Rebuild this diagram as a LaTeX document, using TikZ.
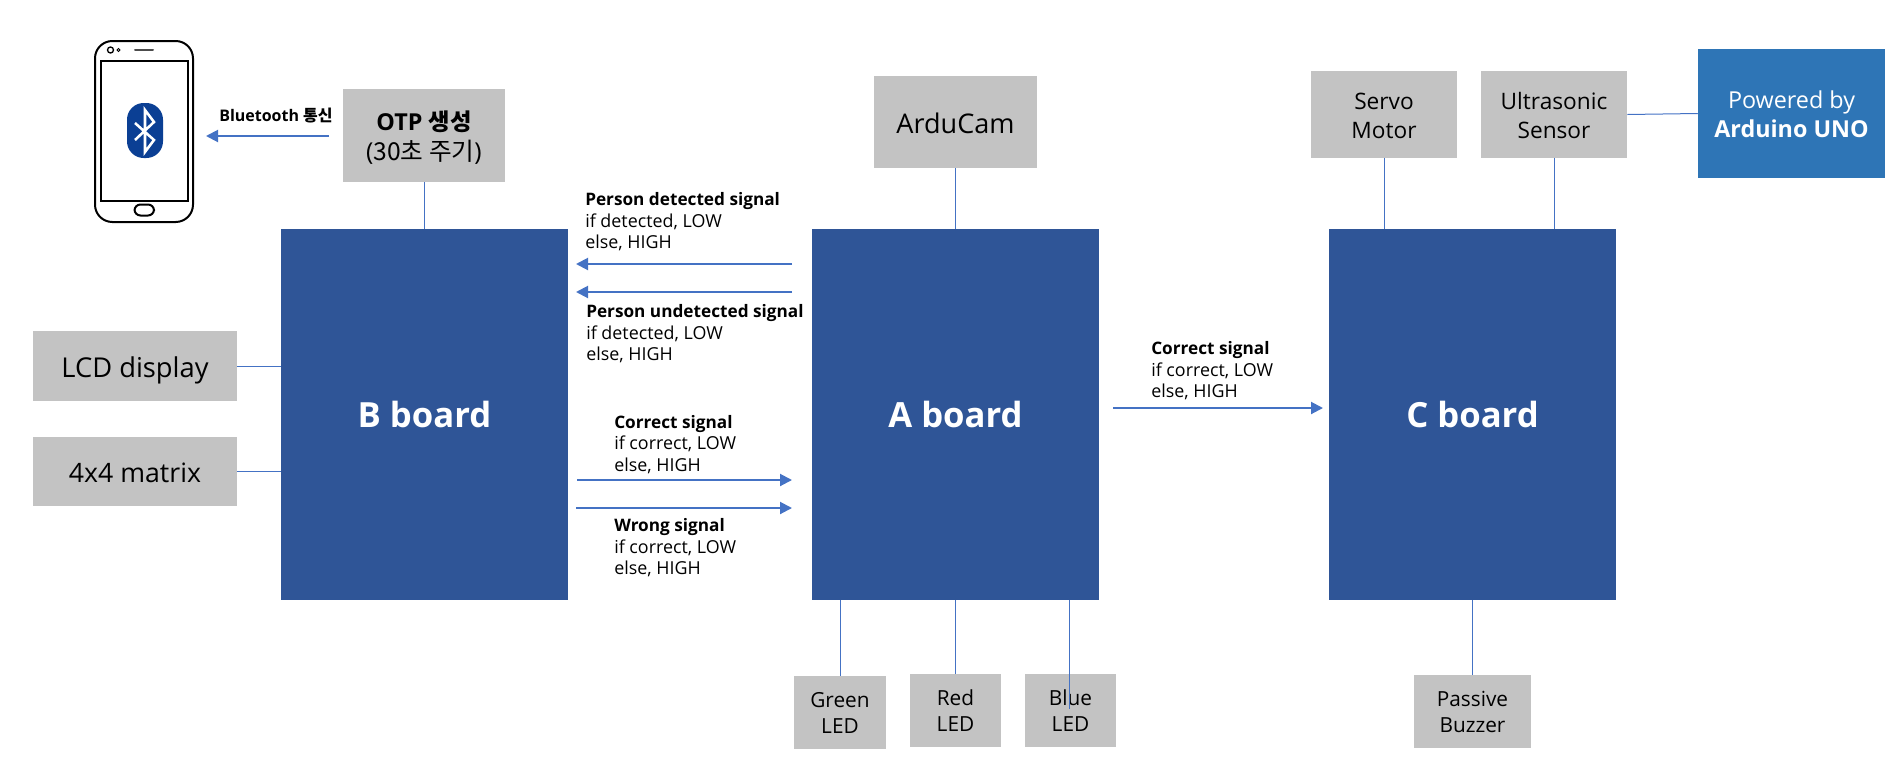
\documentclass[tikz,border=0pt]{standalone}
\usepackage{fontspec}
\setmainfont{Open Sans}
\newfontfamily\kr{Noto Sans CJK KR}
\usetikzlibrary{arrows.meta}
\definecolor{boardblue}{HTML}{2F5597}
\definecolor{unoblue}{HTML}{2E75B6}
\definecolor{partgray}{HTML}{C3C3C3}
\definecolor{wireblue}{HTML}{4472C4}
\definecolor{btblue}{HTML}{0B3F94}
\newcommand{\sigtext}[3]{{\fontsize{12.9}{16}\selectfont\bfseries #1}\\#2\\#3}
\newcommand{\nudgetext}[2]{\raisebox{-#1}[\height][\depth]{\begin{tabular}{@{}c@{}}#2\end{tabular}}}
\tikzset{
  board/.style={fill=boardblue,text=white,font=\fontsize{26}{30}\selectfont\bfseries,inner sep=0pt,align=center},
  part/.style={fill=partgray,text=black,font=\fontsize{17}{22}\selectfont,inner sep=0pt,align=center},
  smallpart/.style={part,font=\fontsize{15.6}{19.5}\selectfont},
  uno/.style={fill=unoblue,text=white,font=\fontsize{17.5}{22}\selectfont,inner sep=0pt,align=center},
  signal/.style={anchor=north west,inner sep=0pt,align=left,font=\fontsize{13.4}{16}\selectfont,text=black},
  wire/.style={draw=wireblue,line width=0.75pt},
  sigarrow/.style={draw=wireblue,line width=1.5pt,-{Triangle[length=9pt,width=9pt]}},
  phoneline/.style={draw=black,line width=1.5pt,fill=white}
}
\begin{document}
\begin{tikzpicture}[x=0.75pt,y=-0.75pt]
\useasboundingbox (0,0) rectangle (1900,768);
% boards
\node[board,minimum width=215.25pt,minimum height=278.25pt] (bboard) at (424.5,414.5) {\nudgetext{4.1pt}{B board}};
\node[board,minimum width=215.25pt,minimum height=278.25pt] (aboard) at (955.5,414.5) {\nudgetext{4.1pt}{A board}};
\node[board,minimum width=215.25pt,minimum height=278.25pt] (cboard) at (1472.5,414.5) {\nudgetext{4.1pt}{C board}};
% parts
\node[part,minimum width=121.5pt,minimum height=69.75pt] (otp) at (424,135.5) {\nudgetext{3.2pt}{{\fontsize{17.5}{22}\selectfont\bfseries OTP {\kr\bfseries 생성}}\\{\fontsize{18.5}{22}\selectfont ({\kr 30초 주기})}}};
\node[part,font=\fontsize{20.3}{24}\selectfont,minimum width=122.25pt,minimum height=69pt] (cam) at (955.5,122) {\nudgetext{4.1pt}{ArduCam}};
\node[part,minimum width=109.5pt,minimum height=65.25pt] (servo) at (1384,114.5) {\nudgetext{2.8pt}{Servo\\Motor}};
\node[part,minimum width=109.5pt,minimum height=65.25pt] (ultra) at (1554,114.5) {\nudgetext{2.8pt}{Ultrasonic\\Sensor}};
\node[uno,minimum width=140.25pt,minimum height=96.75pt] (ard) at (1791.5,113.5) {\nudgetext{2.5pt}{Powered by\\\textbf{Arduino UNO}}};
\node[part,font=\fontsize{20.5}{24}\selectfont,minimum width=153pt,minimum height=52.5pt] (lcd) at (135,366) {\nudgetext{4.1pt}{LCD display}};
\node[part,font=\fontsize{20}{24}\selectfont,minimum width=153pt,minimum height=51.75pt] (mat) at (135,471.5) {\nudgetext{3.6pt}{4x4 matrix}};
\node[smallpart,minimum width=69pt,minimum height=54.75pt] (green) at (840,712.5) {Green\\LED};
\node[smallpart,minimum width=68.25pt,minimum height=54.75pt] (red) at (955.5,710.5) {Red\\LED};
\node[smallpart,minimum width=68.25pt,minimum height=54.75pt] (blue) at (1070.5,710.5) {Blue\\LED};
\node[smallpart,minimum width=87.75pt,minimum height=54.75pt] (buzz) at (1472.5,711.5) {Passive\\Buzzer};
% wires
\draw[wire] (otp.south) -- (otp.south |- bboard.north);
\draw[wire] (cam.south) -- (cam.south |- aboard.north);
\draw[wire] (servo.south) -- (servo.south |- cboard.north);
\draw[wire] (ultra.south) -- (ultra.south |- cboard.north);
\draw[wire] (ultra.east) -- (ard.west);
\draw[wire] (lcd.east) -- (lcd.east -| bboard.west);
\draw[wire] (mat.east) -- (mat.east -| bboard.west);
\draw[wire] (green.north) -- (green.north |- aboard.south);
\draw[wire] (red.north) -- (red.north |- aboard.south);
\coordinate (blueend) at (1069.5,709);
\draw[wire] (blueend) -- (blueend |- aboard.south);
\draw[wire] (buzz.north) -- (buzz.north |- cboard.south);
% signal arrows
\coordinate (pdS) at (792,264); \coordinate (pdE) at (576,264);
\coordinate (puS) at (792,292); \coordinate (puE) at (576,292);
\coordinate (cS) at (577,480); \coordinate (cE) at (792,480);
\coordinate (wS) at (576,508); \coordinate (wE) at (792,508);
\coordinate (acS) at (1113,408); \coordinate (acE) at (1323,408);
\coordinate (btS) at (329,136); \coordinate (btE) at (206,136);
\draw[sigarrow] (pdS) -- (pdE);
\draw[sigarrow] (puS) -- (puE);
\draw[sigarrow] (cS) -- (cE);
\draw[sigarrow] (wS) -- (wE);
\draw[sigarrow] (acS) -- (acE);
\draw[sigarrow] (btS) -- (btE);
% signal labels
\node[signal] (l1) at (585,192.5) {\sigtext{Person detected signal}{if detected, LOW}{else, HIGH}};
\node[signal] (l2) at (586,304.5) {\sigtext{Person undetected signal}{if detected, LOW}{else, HIGH}};
\node[signal] (l3) at (614,415) {\sigtext{Correct signal}{if correct, LOW}{else, HIGH}};
\node[signal] (l4) at (614,518.5) {\sigtext{Wrong signal}{if correct, LOW}{else, HIGH}};
\node[signal] (l5) at (1151,341.5) {\sigtext{Correct signal}{if correct, LOW}{else, HIGH}};
\node[signal,font=\fontsize{12}{16}\selectfont] (l6) at (219,108) {\textbf{Bluetooth {\kr\bfseries 통신}}};
% phone
\draw[phoneline,rounded corners=13pt] (95,41) rectangle (193,222);
\draw[phoneline] (101,61) rectangle (188,201);
\draw[phoneline,line width=1pt,fill=white] (110.5,50) circle (3);
\draw[draw=black,line width=0.75pt,fill=white] (118.5,50) circle (1.5);
\draw[draw=black!70,line width=1.5pt,line cap=round] (135,50) -- (153,50);
\draw[phoneline,rounded corners=4.5pt] (134.5,204.5) rectangle (154,215.5);
% bluetooth icon
\fill[btblue,rounded corners=12.5pt] (127,103) rectangle (163,158);
\draw[white,line width=1.9pt,line join=miter] (135,123) -- (154,140) -- (145,152) -- (145,110) -- (154,122) -- (135,140);
\end{tikzpicture}
\end{document}
